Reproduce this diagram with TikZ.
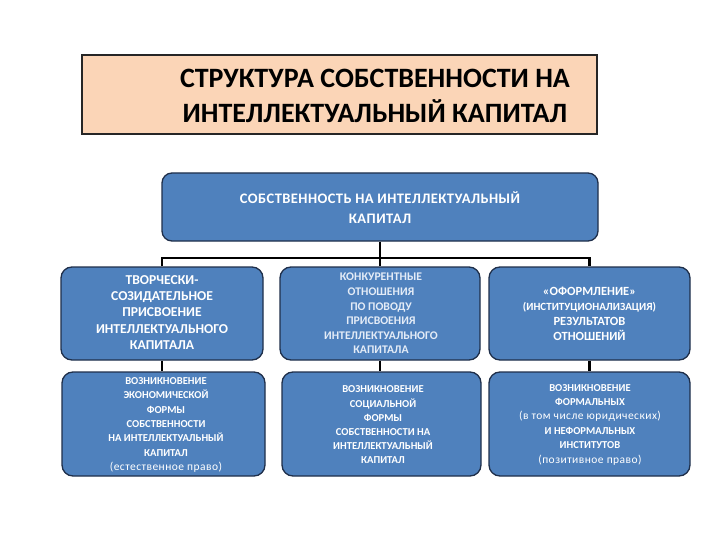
\documentclass[tikz,border=0pt]{standalone}
\usepackage{fontspec}
\setmainfont{Carlito}
\definecolor{boxblue}{HTML}{4F81BD}
\definecolor{boxedge}{HTML}{1F2F4A}
\definecolor{peach}{HTML}{FBD5B7}
\definecolor{paletext}{HTML}{E4ECF7}
\newcommand\mynote[1]{{\fontsize{11.5}{13}\selectfont\mdseries\addfontfeature{LetterSpace=4}#1}}
\begin{document}
\begin{tikzpicture}[x=1pt,y=-1pt,
  bluebox/.style={draw=boxedge,line width=1.3pt,fill=boxblue,rounded corners=11pt,inner sep=0pt,anchor=center},
  boxtext/.style={text=white,align=center,font=\bfseries,inner sep=0pt},
  conn/.style={draw=black,line width=2.4pt}]
\useasboundingbox (0,0) rectangle (720,540);
\fill[white] (0,0) rectangle (720,540);
% title
\node[draw=black!85,line width=2pt,fill=peach,minimum width=515pt,minimum height=79pt,inner sep=0pt] (title) at (339.5,94.5) {};
\node[align=center,font=\fontsize{28}{35}\selectfont\bfseries,inner sep=0pt] (titletext) at (375,95.5) {СТРУКТУРА СОБСТВЕННОСТИ НА\\ИНТЕЛЛЕКТУАЛЬНЫЙ КАПИТАЛ};
% top box
\node[bluebox,rounded corners=10pt,minimum width=436pt,minimum height=68pt] (top) at (380,207) {};
\node[boxtext,font=\fontsize{14.5}{20}\selectfont\bfseries\addfontfeature{LetterSpace=3}] (toptext) at (380,208) {СОБСТВЕННОСТЬ НА ИНТЕЛЛЕКТУАЛЬНЫЙ\\КАПИТАЛ};
% row 1
\node[bluebox,minimum width=202pt,minimum height=93pt] (a1) at (162,313.5) {};
\node[bluebox,minimum width=200pt,minimum height=93pt] (b1) at (380,313.5) {};
\node[bluebox,minimum width=201pt,minimum height=93pt] (c1) at (589.5,313.5) {};
\node[boxtext,font=\fontsize{13.6}{16.3}\selectfont\bfseries] (a1text) at (162,312.5) {ТВОРЧЕСКИ-\\СОЗИДАТЕЛЬНОЕ\\ПРИСВОЕНИЕ\\ИНТЕЛЛЕКТУАЛЬНОГО\\КАПИТАЛА};
\node[boxtext,text=paletext,font=\fontsize{11.7}{14.6}\selectfont\bfseries] (b1text) at (381,313.5) {КОНКУРЕНТНЫЕ\\ОТНОШЕНИЯ\\ПО ПОВОДУ\\ПРИСВОЕНИЯ\\ИНТЕЛЛЕКТУАЛЬНОГО\\КАПИТАЛА};
\node[boxtext,font=\fontsize{11}{15}\selectfont\bfseries] (c1text) at (589.5,314) {{\fontsize{12.5}{15}\selectfont «ОФОРМЛЕНИЕ»}\\(ИНСТИТУЦИОНАЛИЗАЦИЯ)\\{\fontsize{12.5}{16}\selectfont РЕЗУЛЬТАТОВ}\\{\fontsize{12.5}{16}\selectfont ОТНОШЕНИЙ}};
% row 2
\node[bluebox,minimum width=203pt,minimum height=104pt] (a2) at (163.5,424) {};
\node[bluebox,minimum width=199pt,minimum height=104pt] (b2) at (381.5,424) {};
\node[bluebox,minimum width=201pt,minimum height=104pt] (c2) at (589.5,424) {};
\node[boxtext,font=\fontsize{10.6}{14.3}\selectfont\bfseries] (a2text) at (166,425) {ВОЗНИКНОВЕНИЕ\\ЭКОНОМИЧЕСКОЙ\\ФОРМЫ\\СОБСТВЕННОСТИ\\НА ИНТЕЛЛЕКТУАЛЬНЫЙ\\КАПИТАЛ\\\mynote{(естественное право)}};
\node[boxtext,font=\fontsize{10.6}{14.2}\selectfont\bfseries] (b2text) at (383,425) {ВОЗНИКНОВЕНИЕ\\СОЦИАЛЬНОЙ\\ФОРМЫ\\СОБСТВЕННОСТИ НА\\ИНТЕЛЛЕКТУАЛЬНЫЙ\\КАПИТАЛ};
\node[boxtext,font=\fontsize{10.6}{14.4}\selectfont\bfseries] (c2text) at (590,424.5) {ВОЗНИКНОВЕНИЕ\\ФОРМАЛЬНЫХ\\\mynote{(в том числе юридических)}\\И НЕФОРМАЛЬНЫХ\\ИНСТИТУТОВ\\\mynote{(позитивное право)}};
% connectors
\coordinate (bus) at (380,258);
\draw[conn] (top.south) -- (b1.north);
\draw[conn] (a1.north) -- (a1.north |- bus) -- (c1.north |- bus) -- (c1.north);
\draw[conn] (a1.south) -- (a1.south |- a2.north);
\draw[conn] (b1.south) -- (b1.south |- b2.north);
\draw[conn] (c1.south) -- (c1.south |- c2.north);
\end{tikzpicture}
\end{document}
